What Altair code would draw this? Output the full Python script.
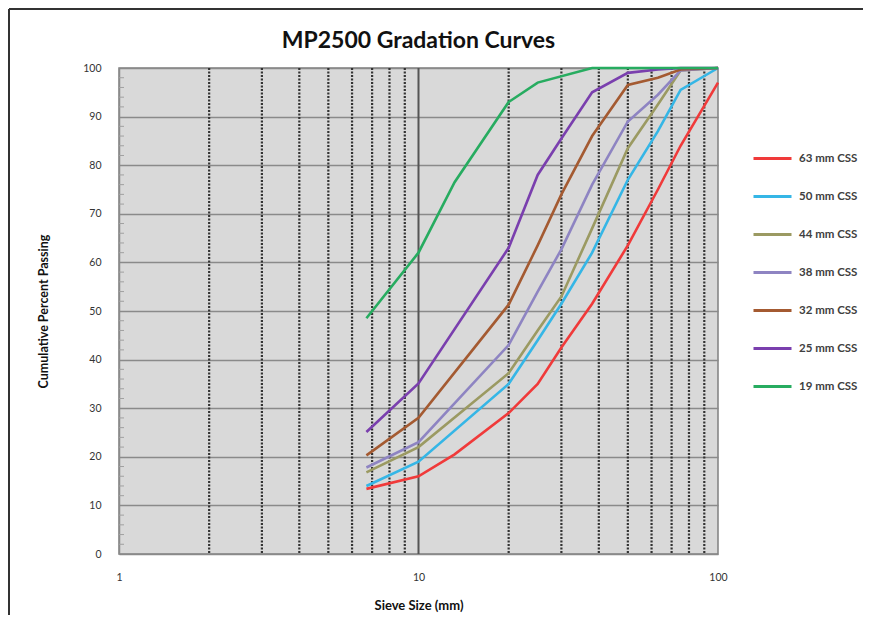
import altair as alt
import pandas as pd

TITLE = "MP2500 Gradation Curves"

SIZES = [6.7, 10, 13.2, 20, 25, 30, 38, 50, 63, 75, 100]

SERIES = ["63 mm CSS", "50 mm CSS", "44 mm CSS", "38 mm CSS", "32 mm CSS", "25 mm CSS", "19 mm CSS"]
COLORS = ["#f03a3a", "#35b6e6", "#9b9a62", "#8e84c2", "#a45a31", "#7a3fae", "#27ac60"]

CSS63 = [13.4, 16.0, 20.5, 29.0, 35.0, 42.5, 51.5, 63.5, 75.0, 84.0, 97.0]
CSS50 = [14.0, 19.0, None, 35.0, 44.0, 51.5, 62.0, 77.0, 87.0, 95.5, 100.0]
CSS44 = [16.8, 22.0, None, 37.2, 46.0, 53.0, 67.0, 83.5, 92.5, 99.5, 100.0]
CSS38 = [17.8, 23.0, None, 43.0, 54.0, 62.7, 76.0, 89.0, 94.5, 99.5, 100.0]
CSS32 = [20.3, 28.0, None, 51.3, 63.5, 74.0, 86.0, 96.5, 98.0, 99.7, 100.0]
CSS25 = [25.1, 35.1, None, 63.0, 78.0, 85.5, 95.0, 99.0, 99.7, 100.0, 100.0]
CSS19 = [48.5, 62.0, 76.5, 93.0, 97.0, None, 100.0, 100.0, 100.0, 100.0, 100.0]

VALUES = [CSS63, CSS50, CSS44, CSS38, CSS32, CSS25, CSS19]

GRID_DASHED = [2, 3, 4, 5, 6, 7, 8, 9, 20, 30, 40, 50, 60, 70, 80, 90]
GRID_SOLID = [10]
Y_MINOR = [v for v in range(2, 100, 2) if v % 10 != 0]

rows = []
for name, vals in zip(SERIES, VALUES):
    for s, v in zip(SIZES, vals):
        if v is not None:
            rows.append({"series": name, "size": s, "pct": v})
df = pd.DataFrame(rows)

W, H = 599, 486
FONT = "Lato"

xscale = alt.Scale(type="log", domain=[1, 100], nice=False)
yscale = alt.Scale(domain=[0, 100], nice=False)

grid_d = alt.Chart(pd.DataFrame({"g": GRID_DASHED})).mark_rule(
    color="#333333", strokeWidth=2.2, strokeDash=[2, 1.5]
).encode(x=alt.X("g:Q", scale=xscale))

grid_s = alt.Chart(pd.DataFrame({"g": GRID_SOLID})).mark_rule(
    color="#555555", strokeWidth=2
).encode(x=alt.X("g:Q", scale=xscale))

minor = alt.Chart(pd.DataFrame({"m": Y_MINOR})).mark_rule(
    color="#a0a0a0", strokeWidth=1
).encode(y=alt.Y("m:Q", scale=yscale), x=alt.value(0), x2=alt.value(5))

lines = alt.Chart(df).mark_line(strokeWidth=2.6).encode(
    x=alt.X("size:Q", scale=xscale,
            axis=alt.Axis(values=[1, 10, 100], title="Sieve Size (mm)", grid=False,
                          ticks=False, domain=False, labelFontSize=10.5, labelColor="#333333",
                          labelPadding=18, titleFontSize=13, titleFont=FONT,
                          titleFontWeight="bold", titlePadding=17, titleColor="#111111",
                          labelFont=FONT, labelFlush=False)),
    y=alt.Y("pct:Q", scale=yscale,
            axis=alt.Axis(values=list(range(0, 101, 10)), title="Cumulative Percent Passing",
                          grid=True, gridColor="#8a8a8a", gridWidth=1.5, ticks=False,
                          domain=True, domainColor="#8a8a8a", domainWidth=1.5,
                          labelFontSize=10.5, labelColor="#333333", labelPadding=18,
                          labelFont=FONT, titleFont=FONT, titleFontSize=12.5,
                          titleFontWeight="bold", titleColor="#111111", titlePadding=32)),
    color=alt.Color("series:N", sort=SERIES,
                    scale=alt.Scale(domain=SERIES, range=COLORS),
                    legend=alt.Legend(title=None, orient="none", legendX=633, legendY=70,
                                      symbolType="stroke", symbolSize=1444,
                                      symbolStrokeWidth=3, labelFontSize=11.5,
                                      labelFont=FONT, labelFontWeight="bold",
                                      labelColor="#404040", rowPadding=11,
                                      labelOffset=6)),
    detail="series:N",
)

title_mark = alt.Chart(pd.DataFrame({"t": [TITLE]})).mark_text(
    font=FONT, fontSize=23, fontWeight="bold", color="#111111", align="center",
    baseline="alphabetic"
).encode(text="t:N", x=alt.value(W / 2), y=alt.value(-20))

frame_top = alt.Chart(pd.DataFrame({"a": [0]})).mark_rule(color="#333333", strokeWidth=2).encode(
    x=alt.value(-110), x2=alt.value(760), y=alt.value(-59))
frame_left = alt.Chart(pd.DataFrame({"a": [0]})).mark_rule(color="#333333", strokeWidth=2).encode(
    x=alt.value(-110), y=alt.value(-59), y2=alt.value(560))

chart = alt.layer(grid_d, grid_s, minor, lines, title_mark, frame_top, frame_left).properties(
    width=W, height=H,
    padding={"left": 111, "top": 60, "right": 145, "bottom": 61},
    autosize=alt.AutoSizeParams(type="none"),
).configure(background="white").configure_view(fill="#d9d9d9", stroke="#808080", strokeWidth=1.5)

chart.save("out.html", embed_options={"renderer": "svg", "actions": False})
